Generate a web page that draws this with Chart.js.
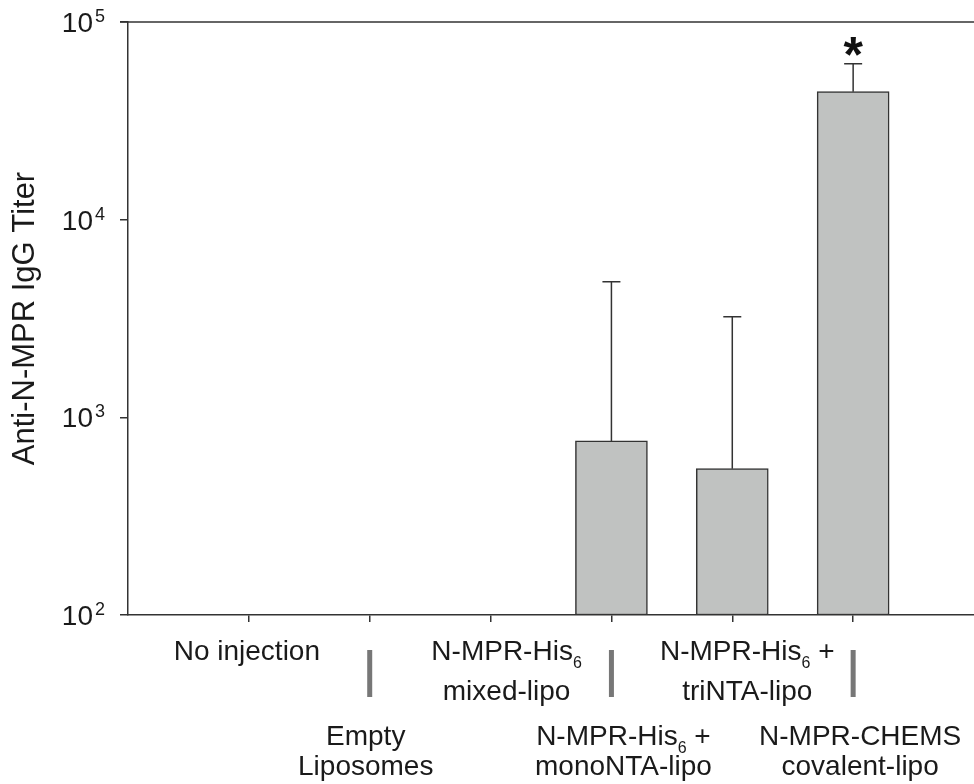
<!DOCTYPE html>
<html>
<head>
<meta charset="utf-8">
<title>Anti-N-MPR IgG Titer</title>
<script src="https://cdn.jsdelivr.net/npm/chart.js@4.4.1/dist/chart.umd.min.js"></script>
<style>
  html, body { margin: 0; padding: 0; background: #fff; }
  #wrap { width: 974px; height: 784px; }
</style>
</head>
<body>
<div id="wrap"><canvas id="titerChart" width="974" height="784"></canvas></div>
<script>
// groups, one entry per label line; "_6" marks a subscript
const groups = [
    ['No injection'],
    ['Empty', 'Liposomes'],
    ['N-MPR-His_6', 'mixed-lipo'],
    ['N-MPR-His_6 +', 'monoNTA-lipo'],
    ['N-MPR-His_6 +', 'triNTA-lipo'],
    ['N-MPR-CHEMS', 'covalent-lipo']
];
const titers = [null, null, null, 760, 550, 44400];
const errUpper = [null, null, null, 4850, 3230, 61500];
const signif = ['', '', '', '', '', '*'];
const yTicks = [100, 1000, 10000, 100000];

const INK = '#333333';
const FONT = '"Liberation Sans", Arial, sans-serif';

// text with _N subscripts, centred on cx
function drawRich(ctx, text, cx, baseline, size) {
    const parts = text.split(/_(\d+)/);
    const mainFont = size + 'px ' + FONT;
    const subFont = Math.round(size * 0.58) + 'px ' + FONT;
    let total = 0;
    parts.forEach(function(p, k) {
        ctx.font = k % 2 ? subFont : mainFont;
        total += ctx.measureText(p).width;
    });
    let x = cx - total / 2;
    ctx.textAlign = 'left';
    ctx.textBaseline = 'alphabetic';
    parts.forEach(function(p, k) {
        ctx.font = k % 2 ? subFont : mainFont;
        ctx.fillText(p, x, k % 2 ? baseline + 8 : baseline);
        x += ctx.measureText(p).width;
    });
}

const decorations = {
    id: 'decorations',
    afterDraw(chart) {
        const ctx = chart.ctx;
        const xs = chart.scales.x;
        const ys = chart.scales.y;
        const area = chart.chartArea;
        ctx.save();
        ctx.fillStyle = '#1a1a1a';

        // top frame line, running from the 10^5 tick to the right edge
        ctx.strokeStyle = INK;
        ctx.lineWidth = 1.5;
        ctx.beginPath();
        ctx.moveTo(area.left - 8, area.top);
        ctx.lineTo(chart.width, area.top);
        ctx.stroke();

        // decade labels 10^n
        yTicks.forEach(function(v) {
            const y = ys.getPixelForValue(v);
            ctx.textBaseline = 'alphabetic';
            ctx.textAlign = 'right';
            ctx.font = '28px ' + FONT;
            ctx.fillText('10', 93, y + 10);
            ctx.textAlign = 'left';
            ctx.font = '18px ' + FONT;
            ctx.fillText(String(Math.round(Math.log10(v))), 95, y);
        });

        // category labels in two staggered rows
        const shift = [-2, -4, 16, 12, 15, 7];
        groups.forEach(function(lines, i) {
            const cx = xs.getPixelForValue(i + 1) + shift[i];
            const second = i % 2 === 1;
            const base = second ? 745 : 660;
            const gap = second ? 30 : 40;
            lines.forEach(function(line, j) {
                drawRich(ctx, line, cx, base + j * gap, 28);
            });
            if (second) {
                ctx.fillStyle = '#777777';
                ctx.fillRect(xs.getPixelForValue(i + 1) - 2.5, 650, 5, 47);
                ctx.fillStyle = '#1a1a1a';
            }
        });
        ctx.restore();
    },
    afterDatasetsDraw(chart) {
        const ctx = chart.ctx;
        const ys = chart.scales.y;
        const bars = chart.getDatasetMeta(0).data;
        ctx.save();
        ctx.strokeStyle = INK;
        ctx.lineWidth = 1.5;
        bars.forEach(function(bar, i) {
            if (titers[i] == null) return;
            const top = ys.getPixelForValue(titers[i]);
            const cap = ys.getPixelForValue(errUpper[i]);
            ctx.beginPath();
            ctx.moveTo(bar.x, top);
            ctx.lineTo(bar.x, cap);
            ctx.moveTo(bar.x - 9, cap);
            ctx.lineTo(bar.x + 9, cap);
            ctx.stroke();
            if (signif[i]) {
                ctx.fillStyle = '#111';
                ctx.font = 'bold 50px ' + FONT;
                ctx.textAlign = 'center';
                ctx.textBaseline = 'alphabetic';
                ctx.fillText(signif[i], bar.x, cap + 8);
            }
        });
        ctx.restore();
    }
};

const ctx = document.getElementById('titerChart').getContext('2d');
new Chart(ctx, {
    type: 'bar',
    data: {
        datasets: [{
            label: 'Anti-N-MPR IgG Titer',
            data: titers.map(function(v, i) { return { x: i + 1, y: v }; }),
            backgroundColor: '#c0c2c1',
            borderColor: INK,
            borderWidth: 1.5,
            borderSkipped: false,
            barThickness: 72
        }]
    },
    options: {
        responsive: false,
        animation: false,
        devicePixelRatio: 1,
        layout: { padding: { top: 22, right: 0, left: 0, bottom: 0 } },
        plugins: {
            legend: { display: false },
            tooltip: { enabled: false }
        },
        scales: {
            x: {
                type: 'linear',
                min: 0,
                max: 7,
                offset: false,
                ticks: { display: false, stepSize: 1 },
                afterBuildTicks: function(scale) {
                    scale.ticks = groups.map(function(g, i) { return { value: i + 1 }; });
                },
                afterFit: function(scale) { scale.height = 169; },
                grid: {
                    offset: false,
                    drawOnChartArea: false,
                    drawTicks: true,
                    tickLength: 7,
                    color: INK,
                    lineWidth: 1.5
                },
                border: { display: true, color: INK, width: 1.5 }
            },
            y: {
                type: 'logarithmic',
                min: 100,
                max: 100000,
                ticks: { display: false },
                afterBuildTicks: function(scale) {
                    scale.ticks = yTicks.map(function(v) { return { value: v }; });
                },
                afterFit: function(scale) { scale.width = 128; },
                grid: {
                    drawOnChartArea: false,
                    drawTicks: true,
                    tickLength: 8,
                    color: INK,
                    lineWidth: 1.5
                },
                border: { display: true, color: INK, width: 1.5 },
                title: {
                    display: true,
                    text: 'Anti-N-MPR IgG Titer',
                    color: '#1a1a1a',
                    font: { family: FONT, size: 31 },
                    padding: { top: 7, bottom: 0 }
                }
            }
        }
    },
    plugins: [decorations]
});
</script>
</body>
</html>
